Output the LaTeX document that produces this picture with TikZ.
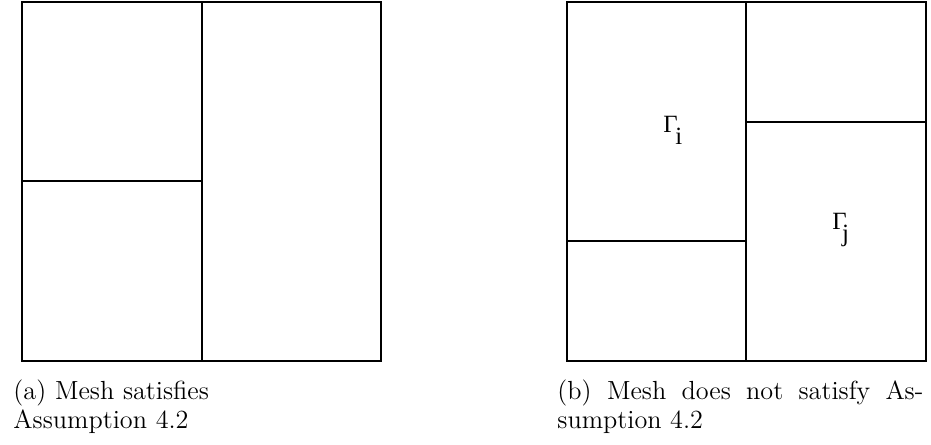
\documentclass[tikz,border=0pt]{standalone}
\usepackage{fontspec}
\newfontfamily\lblfont{Liberation Serif}
\begin{document}
\begin{tikzpicture}[x=0.4274pt,y=-0.4274pt,
  mesh/.style={draw=black,line width=0.45pt},
  caption/.style={inner sep=0pt,font=\fontsize{11.2pt}{12.6pt}\selectfont},
  gam/.style={inner sep=0pt,anchor=base west,font=\lblfont\fontsize{10.6pt}{12pt}\selectfont}]
\useasboundingbox (0,0) rectangle (931,445);
% (a)
\draw[mesh] (22,2) rectangle (381,361);
\coordinate (a1) at (202,2);
\coordinate (a2) at (202,361);
\coordinate (a3) at (22,181);
\coordinate (a4) at (202,181);
\draw[mesh] (a1) -- (a2);
\draw[mesh] (a3) -- (a4);
% (b)
\draw[mesh] (567,2) rectangle (926,361);
\coordinate (b1) at (746,2);
\coordinate (b2) at (746,361);
\coordinate (b3) at (567,241);
\coordinate (b4) at (746,241);
\coordinate (b5) at (746,122);
\coordinate (b6) at (926,122);
\draw[mesh] (b1) -- (b2);
\draw[mesh] (b3) -- (b4);
\draw[mesh] (b5) -- (b6);
\node[gam] (gi) at (663,133) {Γ\kern-1.0pt\raisebox{-5.1pt}{i}};
\node[gam] (gj) at (832,230) {Γ\kern-2.0pt\raisebox{-5.1pt}{j}};
% captions
\node[caption,anchor=north west,text width=200pt,align=left] (capa) at (13,379)
  {(a) Mesh satisfies\\Assumption 4.2};
\node[caption,anchor=north west,text width=156.4pt,align=justify] (capb) at (557,379)
  {(b) Mesh does not satisfy As-\linebreak sumption 4.2};
\end{tikzpicture}
\end{document}
